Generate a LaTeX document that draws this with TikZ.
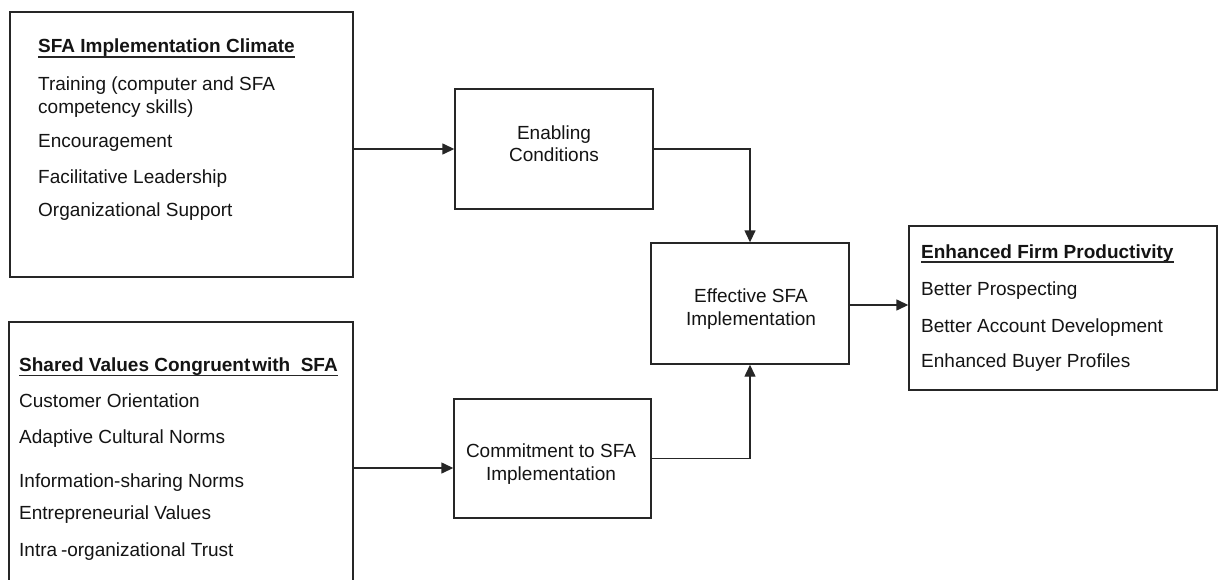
\documentclass[tikz,border=0pt]{standalone}
\usepackage{fontspec}
\setmainfont{Liberation Sans}
\usetikzlibrary{arrows.meta}
\begin{document}
\begin{tikzpicture}[x=1pt,y=-1pt,
  box/.style={draw=black!85, line width=1.4pt, inner sep=0pt, rectangle},
  txt/.style={inner sep=0pt, anchor=base west, font=\fontsize{19}{22}\selectfont, text=black!92},
  head/.style={txt, font=\fontsize{19}{22}\selectfont\bfseries},
  ctxt/.style={txt, anchor=base},
  arr/.style={draw=black!85, line width=1.4pt, -{Triangle[length=12pt,width=11pt]}},
  uline/.style={draw=black!85, line width=1.2pt}]
\useasboundingbox (0,0) rectangle (1222,580);
\clip (0,0) rectangle (1222,580);
\fill[white] (0,0) rectangle (1222,580);

% frames
\node[box, minimum width=343pt, minimum height=265pt] (climate) at (181.5,144.5) {};
\node[box, minimum width=344pt, minimum height=290pt] (shared) at (181,467) {};
\node[box, minimum width=198pt, minimum height=120pt] (enabling) at (554,149) {};
\node[box, minimum width=197pt, minimum height=119pt] (commit) at (552.5,458.5) {};
\node[box, minimum width=198pt, minimum height=121pt] (effective) at (750,303.5) {};
\node[box, minimum width=308pt, minimum height=164pt] (enhanced) at (1063,308) {};

% SFA implementation climate
\node[head] (c0) at (38,53) {SFA Implementation Climate};
\draw[uline] ([yshift=-4pt]c0.base west) -- ([yshift=-4pt]c0.base east);
\node[txt] (c1) at (38,91) {Training (computer and SFA};
\node[txt] (c2) at (38,114) {competency skills)};
\node[txt] (c3) at (38,148) {Encouragement};
\node[txt] (c4) at (38,183) {Facilitative Leadership};
\node[txt] (c5) at (38,216) {Organizational Support};

% shared values
\node[head] (s0) at (19,371) {Shared Values Congruent\hspace{0.1em}with\hspace{0.55em}SFA};
\draw[uline] ([yshift=-4.5pt]s0.base west) -- ([yshift=-4.5pt]s0.base east);
\node[txt] (s1) at (19,407) {Customer Orientation};
\node[txt] (s2) at (19,443) {Adaptive Cultural Norms};
\node[txt] (s3) at (19,487) {Information-sharing Norms};
\node[txt] (s4) at (19,519) {Entrepreneurial Values};
\node[txt] (s5) at (19,556) {Intra\hspace{0.2em}-organizational Trust};

% middle boxes
\node[ctxt] (e1) at (554,140) {Enabling};
\node[ctxt] (e2) at (554,162) {Conditions};
\node[ctxt] (m1) at (551,457) {Commitment to SFA};
\node[ctxt] (m2) at (551,480) {Implementation};
\node[ctxt] (f1) at (751,302) {Effective SFA};
\node[ctxt] (f2) at (751,325) {Implementation};

% enhanced firm productivity
\node[head] (p0) at (921,258) {Enhanced Firm Productivity};
\draw[uline] ([yshift=-4pt]p0.base west) -- ([yshift=-4pt]p0.base east);
\node[txt] (p1) at (921,295) {Better Prospecting};
\node[txt] (p2) at (921,332) {Better Account Development};
\node[txt] (p3) at (921,367) {Enhanced Buyer Profiles};

% connectors
\draw[arr] (climate.east |- enabling.west) -- (enabling.west);
\draw[arr] (enabling.east) -| (effective.north);
\coordinate (cin) at ([yshift=-9.5pt]commit.west);
\draw[arr] (shared.east |- cin) -- (cin);
\draw[arr] (commit.east) -| (effective.south);
\coordinate (pin) at ([yshift=-1.5pt]effective.east);
\draw[arr] (pin) -- (pin -| enhanced.west);
\end{tikzpicture}
\end{document}
